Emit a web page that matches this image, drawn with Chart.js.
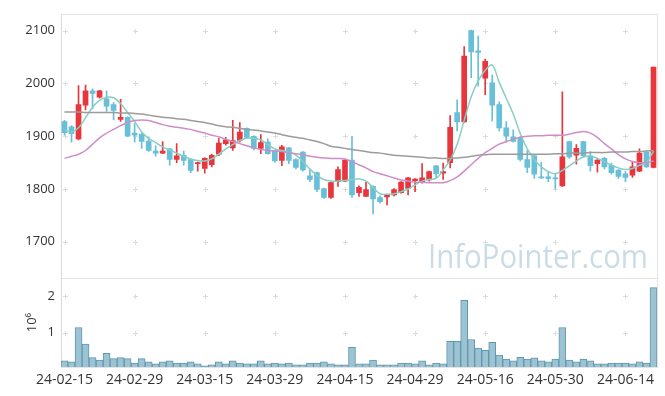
<!DOCTYPE html>
<html>
<head>
<meta charset="utf-8">
<script src="https://cdn.jsdelivr.net/npm/chart.js@4.4.1/dist/chart.umd.min.js"></script>
<style>
  html, body { margin: 0; padding: 0; background: #fff; }
  #wrap { width: 665px; height: 396px; }
</style>
</head>
<body>
<div id="wrap"><canvas id="chart" width="665" height="396"></canvas></div>
<script>
// --- data ---
const dates = [
  "24-02-15","24-02-16","24-02-19","24-02-20","24-02-21","24-02-22","24-02-23","24-02-26","24-02-27","24-02-28","24-02-29",
  "24-03-04","24-03-05","24-03-06","24-03-07","24-03-08","24-03-11","24-03-12","24-03-13","24-03-14","24-03-15",
  "24-03-18","24-03-19","24-03-20","24-03-21","24-03-22","24-03-25","24-03-26","24-03-27","24-03-28","24-03-29",
  "24-04-01","24-04-02","24-04-03","24-04-04","24-04-05","24-04-08","24-04-09","24-04-11","24-04-12","24-04-15",
  "24-04-16","24-04-17","24-04-18","24-04-19","24-04-22","24-04-23","24-04-24","24-04-25","24-04-26","24-04-29",
  "24-04-30","24-05-02","24-05-03","24-05-07","24-05-08","24-05-09","24-05-10","24-05-13","24-05-14","24-05-16",
  "24-05-17","24-05-20","24-05-21","24-05-22","24-05-23","24-05-24","24-05-27","24-05-28","24-05-29","24-05-30",
  "24-05-31","24-06-03","24-06-04","24-06-05","24-06-07","24-06-10","24-06-11","24-06-12","24-06-13","24-06-14",
  "24-06-17","24-06-18","24-06-19","24-06-20"
];

const open  = [1928,1918,1895,1959,1986,1974,1971,1960,1932,1936,1906,1904,1891,1872,1868,1876,1856,1864,1856,1848,1839,
               1846,1866,1886,1878,1892,1915,1900,1877,1889,1873,1854,1878,1856,1870,1825,1831,1801,1784,1814,1815,
               1855,1793,1786,1805,1784,1785,1789,1793,1801,1816,1813,1817,1844,1830,1850,1945,1927,2100,2062,2010,
               2001,1960,1916,1899,1897,1856,1863,1823,1823,1821,1806,1890,1864,1890,1863,1848,1858,1845,1836,1829,
               1826,1834,1870,1841];
const high  = [1930,1920,1996,1997,1990,1987,1986,1964,1970,1937,1924,1905,1899,1882,1890,1877,1886,1872,1857,1851,1859,
               1866,1896,1898,1930,1926,1916,1901,1903,1895,1874,1883,1879,1857,1871,1836,1832,1802,1813,1842,1856,
               1900,1806,1813,1806,1787,1789,1801,1814,1822,1820,1848,1834,1845,1849,1939,1969,2070,2101,2090,2046,
               2016,1965,1928,1912,1899,1873,1865,1851,1833,1829,1984,1891,1884,1891,1871,1856,1860,1849,1837,1833,
               1851,1876,1871,2031];
const low   = [1902,1889,1893,1950,1952,1972,1947,1931,1928,1899,1889,1877,1871,1862,1867,1845,1850,1845,1831,1834,1830,
               1842,1863,1883,1873,1889,1896,1874,1867,1866,1851,1844,1848,1838,1834,1814,1795,1782,1782,1805,1814,
               1784,1786,1786,1753,1773,1770,1787,1792,1789,1795,1811,1815,1822,1818,1840,1910,1926,2011,1995,1979,
               1929,1910,1889,1889,1853,1831,1820,1820,1814,1800,1805,1858,1847,1860,1834,1832,1838,1828,1820,1814,
               1822,1833,1841,1840];
const close = [1907,1905,1960,1986,1981,1986,1957,1949,1936,1900,1902,1890,1873,1868,1872,1856,1863,1854,1835,1850,1858,
               1864,1887,1893,1892,1908,1898,1877,1888,1867,1853,1880,1854,1841,1836,1818,1799,1784,1812,1837,1855,
               1789,1803,1799,1781,1776,1788,1799,1813,1821,1819,1821,1833,1829,1833,1917,1927,2052,2060,2059,2042,
               1959,1916,1900,1890,1856,1841,1828,1821,1820,1819,1861,1861,1877,1863,1844,1855,1842,1831,1824,1822,
               1842,1868,1842,2031];

const volume = [220000,190000,1140000,680000,310000,240000,430000,280000,310000,280000,160000,280000,190000,140000,190000,
                220000,160000,160000,190000,140000,80000,110000,190000,140000,220000,160000,140000,140000,220000,140000,
                160000,140000,160000,110000,110000,160000,160000,190000,140000,110000,110000,590000,140000,140000,240000,
                110000,110000,110000,160000,160000,140000,220000,110000,160000,140000,760000,760000,1890000,810000,570000,
                510000,730000,380000,270000,220000,320000,270000,300000,220000,190000,270000,1140000,240000,190000,270000,
                220000,140000,140000,160000,160000,160000,140000,190000,160000,2240000];

const maShort = [1912,1908,1916,1935,1955,1968,1974,1973,1962,1945,1928,1908,1896,1888,1880,1874,1868,1862,1857,1854,1853,
                 1857,1866,1876,1884,1892,1896,1896,1893,1884,1876,1873,1870,1864,1852,1838,1826,1818,1815,1815,1816,
                 1818,1819,1815,1803,1791,1790,1791,1795,1800,1808,1815,1818,1820,1836,1855,1885,1930,1975,2005,2025,
                 2035,2002,1972,1942,1905,1876,1856,1842,1833,1829,1835,1844,1853,1861,1862,1858,1852,1845,1840,1837,
                 1839,1845,1850,1872];
const maMid   = [1858,1862,1866,1873,1885,1897,1906,1913,1920,1926,1930,1931,1930,1926,1922,1919,1917,1915,1913,1909,1906,
                 1902,1899,1894,1890,1886,1882,1878,1875,1873,1872,1871,1869,1867,1865,1862,1860,1859,1858,1858,1857,
                 1852,1846,1840,1833,1829,1825,1821,1817,1815,1813,1813,1812,1812,1812,1816,1823,1834,1846,1858,1869,
                 1877,1885,1890,1894,1898,1900,1901,1901,1902,1902,1902,1904,1907,1909,1906,1898,1886,1876,1865,1857,
                 1852,1850,1850,1853];
const maLong  = [1946,1946,1946,1945,1945,1945,1945,1945,1944,1944,1943,1942,1940,1938,1936,1935,1933,1932,1930,1928,1926,
                 1923,1920,1918,1917,1915,1913,1912,1910,1908,1906,1903,1900,1898,1896,1893,1890,1886,1881,1879,1877,
                 1875,1873,1871,1869,1868,1866,1864,1863,1862,1861,1860,1859,1859,1858,1858,1859,1860,1862,1864,1865,
                 1866,1866,1866,1866,1866,1866,1866,1866,1866,1867,1867,1868,1868,1868,1869,1869,1869,1870,1870,1870,
                 1871,1871,1872,1873];

const priceTicks = [1700, 1800, 1900, 2000, 2100];
const volTicks   = [1000000, 2000000];
const labelEvery = 10;

// --- colours ---
const UP = "#e8363c";
const DOWN = "#67bfd8";
const candleColor = ctx => close[ctx.dataIndex] >= open[ctx.dataIndex] ? UP : DOWN;

const bodies = open.map((o, i) => [Math.min(o, close[i]), Math.max(o, close[i])]);
const wicks  = low.map((l, i) => [l, high[i]]);

const FONT = '"Open Sans", "Noto Sans", sans-serif';

// borders, "+" markers and watermark
const decor = {
  id: "decor",
  beforeDatasetsDraw(chart) {
    const { ctx } = chart;
    const x = chart.scales.x, yp = chart.scales.y, yv = chart.scales.yv;
    ctx.save();

    ctx.font = "33px " + FONT;
    ctx.fillStyle = "#cadce6";
    ctx.textAlign = "right";
    ctx.textBaseline = "alphabetic";
    ctx.fillText("InfoPointer.com", 648, 268, 220);

    ctx.strokeStyle = "#dcdcdc";
    ctx.lineWidth = 1;
    const plus = (px, py) => {
      px = Math.round(px) + 0.5; py = Math.round(py) + 0.5;
      ctx.beginPath();
      ctx.moveTo(px - 2.5, py); ctx.lineTo(px + 2.5, py);
      ctx.moveTo(px, py - 2.5); ctx.lineTo(px, py + 2.5);
      ctx.stroke();
    };
    for (let i = 0; i < dates.length; i += labelEvery) {
      const px = x.getPixelForValue(i);
      priceTicks.forEach(v => plus(px, yp.getPixelForValue(v)));
      volTicks.forEach(v => plus(px, yv.getPixelForValue(v)));
    }

    ctx.strokeStyle = "#e4e4e4";
    ctx.strokeRect(Math.round(x.left) + 0.5, Math.round(yp.top) + 0.5,
                   Math.round(x.right - x.left), Math.round(yp.bottom - yp.top));
    ctx.strokeRect(Math.round(x.left) + 0.5, Math.round(yv.top) + 0.5,
                   Math.round(x.right - x.left), Math.round(yv.bottom - yv.top));
    ctx.strokeStyle = "#dadada";
    ctx.beginPath();
    ctx.moveTo(Math.round(x.left) + 0.5, yp.top);
    ctx.lineTo(Math.round(x.left) + 0.5, yv.bottom);
    ctx.stroke();
    ctx.restore();
  }
};

const maLine = (data, color) => ({
  type: "line",
  data,
  yAxisID: "y",
  borderColor: color,
  borderWidth: 1.5,
  pointRadius: 0,
  tension: 0.35,
  fill: false,
  order: 0
});

new Chart(document.getElementById("chart"), {
  type: "bar",
  data: {
    labels: dates,
    datasets: [
      maLine(maLong, "#9c9c9c"),
      maLine(maMid, "#cf8dc8"),
      maLine(maShort, "#88cec2"),
      {
        data: wicks, yAxisID: "y", grouped: false, order: 2,
        backgroundColor: candleColor, barThickness: 1
      },
      {
        data: bodies, yAxisID: "y", grouped: false, order: 1,
        backgroundColor: candleColor, barThickness: 5, minBarLength: 1
      },
      {
        data: volume, yAxisID: "yv", grouped: false, order: 3,
        backgroundColor: "#9dc3d3", borderColor: "#5f97b0", borderWidth: 1,
        barPercentage: 1, categoryPercentage: 1
      }
    ]
  },
  options: {
    responsive: false,
    animation: false,
    devicePixelRatio: 1,
    layout: { padding: { top: 10, right: 8, left: 0, bottom: 0 } },
    plugins: { legend: { display: false }, tooltip: { enabled: false } },
    scales: {
      x: {
        offset: true,
        grid: { display: false, drawTicks: false },
        border: { display: false },
        ticks: {
          autoSkip: false, maxRotation: 0, padding: 5,
          color: "#333", font: { family: FONT, size: 14 },
          callback: (v, i) => i % labelEvery === 0 ? dates[i] : ""
        },
        afterFit: s => { s.height = 29; }
      },
      yv: {
        position: "left", stack: "panes", stackWeight: 90,
        min: 50000, max: 2500000,
        grid: { display: false, drawTicks: false },
        border: { display: false },
        title: { display: true, text: "10⁶", color: "#333", font: { family: FONT, size: 13 }, padding: { top: 24, bottom: 0 } },
        ticks: { padding: 6, color: "#333", font: { family: FONT, size: 13 }, callback: v => String(v / 1e6) },
        afterBuildTicks: s => { s.ticks = volTicks.map(v => ({ value: v })); },
        afterFit: s => { s.width = 61; }
      },
      y: {
        position: "left", stack: "panes", stackWeight: 268,
        min: 1631, max: 2132,
        grid: { display: false, drawTicks: false },
        border: { display: false },
        ticks: { padding: 6, color: "#333", font: { family: FONT, size: 13 }, callback: v => String(v) },
        afterBuildTicks: s => { s.ticks = priceTicks.map(v => ({ value: v })); },
        afterFit: s => { s.width = 61; }
      }
    }
  },
  plugins: [decor]
});
</script>
</body>
</html>
